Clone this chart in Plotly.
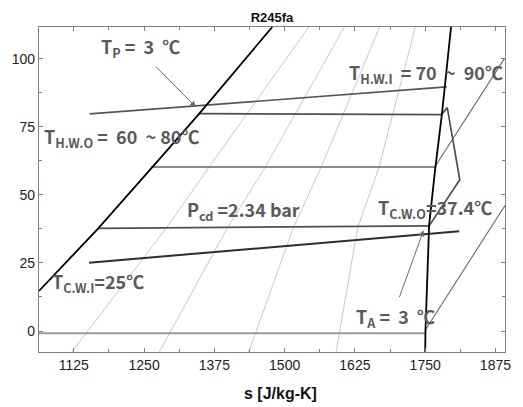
import plotly.graph_objects as go

# ---- data (s [J/kg-K], T [degC]) ----
liq_s = [1063, 1168, 1267, 1347, 1478]
liq_T = [14.7, 37.6, 60.7, 79.5, 111.6]
vap_s = [1750, 1750.5, 1757, 1767.5, 1780, 1796]
vap_T = [-7.7, 0, 38.8, 59, 80, 111.6]

evap_s = [1347, 1779]
evap_T = [79.8, 79.4]
exp_s = [1779, 1789.3, 1811.6, 1757]
exp_T = [79.4, 82.0, 55.5, 38.6]
cond_s = [1757, 1168.5]
cond_T = [38.6, 37.7]
mid_s = [1263, 1767.6]
mid_T = [60.2, 60.2]

hw_s = [1153, 1788]
hw_T = [79.7, 89.6]
cw_s = [1152, 1810.6]
cw_T = [25.1, 36.6]

iso60_s = [1767.6, 1890.8]
iso60_T = [60.4, 100.0]
iso0_s = [1750, 1892]
iso0_T = [0.3, 46.1]
zero_s = [1063, 1750]
zero_T = [-0.85, -0.85]

hA_s = [1121.5, 1289.4, 1365.7, 1543]
hB_s = [1277, 1397.9, 1465.5, 1606.3]
hC_s = [1436.1, 1515.3, 1565, 1669]
hD_s = [1591.5, 1629.8, 1668, 1732.4]
h_T = [-7.7, 37.8, 60.2, 111.6]

x_ticks = [1125, 1250, 1375, 1500, 1625, 1750, 1875]
y_ticks = [0, 25, 50, 75, 100]

fig = go.Figure()

def line(xs, ys, color, width):
    fig.add_trace(go.Scatter(x=xs, y=ys, mode="lines",
                             line=dict(color=color, width=width),
                             hoverinfo="skip", showlegend=False))

for hs in (hA_s, hB_s, hC_s, hD_s):
    line(hs, h_T, "#c8c8c8", 1)
line(zero_s, zero_T, "#9a9a9a", 2)
line(iso60_s, iso60_T, "#666666", 1.1)
line(iso0_s, iso0_T, "#666666", 1.1)
line(mid_s, mid_T, "#666666", 1.4)
line(evap_s, evap_T, "#505050", 1.7)
line(exp_s, exp_T, "#505050", 1.7)
line(cond_s, cond_T, "#505050", 1.7)
line(hw_s, hw_T, "#555555", 1.7)
line(cw_s, cw_T, "#2e2e2e", 2)
line(liq_s, liq_T, "#000000", 1.8)
line(vap_s, vap_T, "#000000", 1.8)

tf = dict(family="Noto Sans CJK KR", size=18, color="#5a5a5a", weight="bold")
S = "&nbsp;"
labels = [
    ("T<sub>P</sub>" + S + "=" + S + S + "3" + S + S + "℃", 1172, 104.1),
    ("T<sub>H.W.I</sub>" + S + S + "=" + S + "70" + S + S + "~" + S + S + "90℃", 1612, 94.6),
    ("T<sub>H.W.O</sub>" + S + "=" + S + S + "60" + S + S + "~" + S + "80℃", 1070, 71.1),
    ("P<sub>cd</sub> =2.34 bar", 1325, 44.3),
    ("T<sub>C.W.O</sub>=37.4℃", 1665, 45.0),
    ("T<sub>C.W.I</sub>=25℃", 1085, 17.9),
    ("T<sub>A</sub>" + S + "=" + S + S + "3" + S + S + "℃", 1626, 5.0),
]
for txt, x, y in labels:
    fig.add_annotation(x=x, y=y, text=txt, showarrow=False, xanchor="left",
                       yanchor="middle", font=tf, borderpad=0)

for (x0, y0, x1, y1) in [(1268.8, 97.5, 1342.3, 82.2), (1703.2, 11.9, 1747.2, 37.0)]:
    fig.add_annotation(x=x1, y=y1, ax=x0, ay=y0, xref="x", yref="y",
                       axref="x", ayref="y", text="", showarrow=True,
                       arrowhead=2, arrowsize=1.2, arrowwidth=1,
                       arrowcolor="#6a6a6a")

fig.add_annotation(x=(282.5 - 38) / 471, y=-(393 - 351.7) / 324.3, xref="paper", yref="paper",
                   text="<b>s [J/kg-K]</b>", showarrow=False, xanchor="center",
                   yanchor="middle",
                   font=dict(family="Liberation Sans", size=16, color="#111111"))

axis_common = dict(showgrid=False, zeroline=False, showline=True,
                   linecolor="#808080", linewidth=1.2, mirror="allticks",
                   ticks="inside", ticklen=4, tickcolor="#808080",
                   tickfont=dict(family="Liberation Sans", size=14, color="#222222"))

fig.update_xaxes(range=[1063, 1892], tickvals=x_ticks,
                 minor=dict(ticks="inside", dtick=62.5, tick0=1125, ticklen=3,
                            tickcolor="#808080"),
                 **axis_common)
fig.update_yaxes(range=[-7.7, 111.6], tickvals=y_ticks,
                 minor=dict(ticks="inside", dtick=12.5, tick0=0, ticklen=3,
                            tickcolor="#808080"),
                 **axis_common)

fig.update_layout(
    width=523, height=407,
    margin=dict(l=38, r=14, t=27, b=55),
    plot_bgcolor="white", paper_bgcolor="white",
    title=dict(text="<b>R245fa</b>", x=0.5, xref="paper", xanchor="center",
               y=1 - 17 / 407, yanchor="middle",
               font=dict(family="Liberation Sans", size=13, color="#111111")),
)

fig.write_html("out.html")
